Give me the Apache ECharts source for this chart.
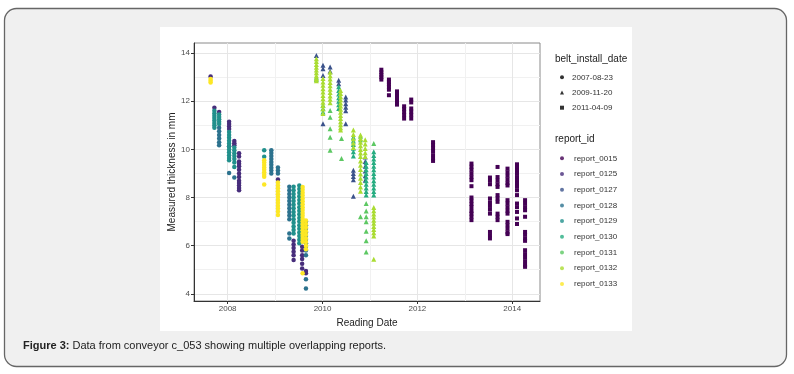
<!DOCTYPE html>
<html><head><meta charset="utf-8">
<script src="https://cdn.jsdelivr.net/npm/echarts@6/dist/echarts.min.js"></script>
<style>html,body{margin:0;padding:0;background:#fff}#c{width:794px;height:374px}</style>
</head><body><div id="c"></div><script>
// ---- data (x = reading date as decimal year; each row: [date, thickness values...]) ----
const reportIds = ['report_0015','report_0125','report_0127','report_0128','report_0129','report_0130','report_0131','report_0132','report_0133'];
const beltDates = ['2007-08-23','2009-11-20','2011-04-09'];
const xTickLabels = [2008, 2010, 2012, 2014];
const xMinorTicks = [2009, 2011, 2013];
const yTickLabels = [4, 6, 8, 10, 12, 14];
const yMinorTicks = [5, 7, 9, 11, 13];

// belt 2007-08-23 (circles)
const c0125 = [
 [2007.64, 13.03],
 [2007.72, 11.73],
 [2007.82, 11.55],
 [2008.03, 11.15, 11.05, 10.95, 10.85, 10.13],
 [2008.14, 10.35, 10.25, 10.17],
 [2008.24, 9.84, 9.7, 9.5, 9.4, 9.3, 9.15, 9.0, 8.85, 8.7, 8.6, 8.5, 8.4, 8.3],
 [2009.06, 8.75],
 [2009.39, 6.2, 6.05, 5.9, 5.75, 5.6, 5.4],
 [2009.57, 5.95, 5.8, 5.6, 5.45, 5.25, 5.05],
 [2009.65, 4.95, 4.85]
];
const c0128 = [
 [2007.82, 10.9, 10.75, 10.6, 10.45, 10.3, 10.17],
 [2008.03, 9.02],
 [2008.14, 8.83],
 [2008.92, 9.96, 9.85, 9.72, 9.6, 9.48, 9.36, 9.24, 9.12, 9.0],
 [2009.06, 9.25, 9.12, 9.0],
 [2009.30, 8.45, 8.3, 8.15, 8.0, 7.85, 7.7, 7.55, 7.4, 7.25, 7.1, 6.5, 6.3],
 [2009.65, 7.0, 6.85, 6.7, 6.55, 6.4, 6.25, 6.1, 5.95, 5.8, 5.6, 4.6, 4.22]
];
const c0129 = [
 [2007.72, 11.6, 11.5, 11.4, 11.3, 11.2, 11.1, 11.0, 10.9],
 [2007.82, 11.45, 11.35, 11.25, 11.15, 11.05],
 [2008.03, 10.72, 10.6, 10.48, 10.36, 10.24, 10.12, 10.0, 9.88, 9.76, 9.64, 9.55],
 [2008.14, 10.08, 9.96, 9.84, 9.72, 9.6, 9.45, 9.27],
 [2008.77, 9.96, 9.69],
 [2009.39, 8.45, 8.3, 8.15, 8.0, 7.85, 7.7, 7.55, 7.4, 7.25, 7.1, 6.95, 6.8, 6.65, 6.5],
 [2009.51, 8.5, 8.35, 8.2, 8.05, 7.9, 7.75, 7.6, 7.45, 7.3, 7.15, 7.0, 6.85, 6.7, 6.55, 6.4, 6.25, 6.1]
];
const c0133 = [
 [2007.64, 12.92, 12.85, 12.78],
 [2008.77, 9.55, 9.45, 9.35, 9.25, 9.15, 9.05, 8.95, 8.86, 8.54],
 [2009.06, 8.62, 8.5, 8.38, 8.26, 8.14, 8.02, 7.9, 7.78, 7.66, 7.54, 7.42, 7.27],
 [2009.58, 8.44, 8.32, 8.2, 8.08, 7.96, 7.84, 7.72, 7.6, 7.48, 7.36, 7.24, 7.12, 7.0, 6.88, 6.76, 6.64, 6.52, 6.4, 6.28, 6.16, 4.85],
 [2009.65, 7.05, 6.9, 6.75, 6.6, 6.45, 6.3, 6.15, 6.0, 5.85]
];
// belt 2009-11-20 (triangles)
const t0127 = [
 [2009.87, 13.9],
 [2010.01, 13.5, 13.35, 13.07, 11.07],
 [2010.16, 13.42, 13.25],
 [2010.34, 12.87, 12.73],
 [2010.49, 12.18, 12.05, 11.9, 11.75, 11.6, 11.07],
 [2010.65, 9.13, 9.0, 8.87, 8.74, 8.05],
 [2010.90, 9.68, 9.5, 9.3, 9.1, 8.9, 8.72]
];
const t0130 = [
 [2010.01, 11.83, 11.7, 11.55],
 [2010.34, 12.6, 12.45, 12.3, 12.15, 12.0, 11.85, 11.7],
 [2010.65, 10.5, 10.35, 10.2, 10.05, 9.9, 9.72],
 [2010.92, 9.45, 9.3, 9.15, 9.0, 8.85, 8.7, 8.55, 8.4, 8.25, 8.1],
 [2011.08, 9.9, 9.75, 9.6, 9.45, 9.3, 9.15, 9.0, 8.85, 8.7, 8.55, 8.4, 8.25, 8.1]
];
const t0131 = [
 [2009.87, 13.0, 12.9],
 [2010.16, 11.62, 11.34, 10.86, 10.5, 9.96],
 [2010.40, 10.45, 9.62],
 [2010.80, 10.55, 10.4, 7.2],
 [2010.92, 7.75, 7.44, 7.2, 6.99, 6.6, 6.2, 5.74],
 [2011.08, 10.24]
];
const t0132 = [
 [2009.87, 13.77, 13.65, 13.53, 13.41, 13.3, 13.18, 13.06, 12.95, 12.85],
 [2010.01, 12.94, 12.8, 12.66, 12.52, 12.38, 12.24, 12.1, 11.96, 11.82, 11.68, 11.49],
 [2010.16, 13.2, 13.06, 12.92, 12.78, 12.64, 12.5, 12.36, 12.22, 12.08, 11.94],
 [2010.38, 12.45, 12.32, 12.19, 12.06, 11.93, 11.8, 11.67, 11.54, 11.41, 11.28, 11.15, 11.02, 10.9, 10.8],
 [2010.65, 10.8, 10.62, 10.44, 10.26, 10.08],
 [2010.80, 10.6, 10.45, 10.3, 10.15, 10.0, 9.85, 9.7, 9.52, 9.34, 9.16, 8.98, 8.8, 8.62, 8.44, 8.26],
 [2010.90, 10.4, 10.22, 10.04, 9.86, 9.7],
 [2011.08, 7.58, 7.45, 7.32, 7.19, 7.06, 6.93, 6.8, 6.67, 6.54, 6.4, 5.43]
];
// belt 2011-04-09 (squares)
const s0015 = [
 [2011.24, 13.31, 13.2, 13.1, 13.0, 12.9],
 [2011.40, 12.9, 12.8, 12.7, 12.6, 12.48, 12.25],
 [2011.57, 12.41, 12.3, 12.2, 12.1, 11.97, 11.86],
 [2011.72, 11.79, 11.68, 11.55, 11.42, 11.28],
 [2011.87, 12.07, 11.95, 11.7, 11.57, 11.43, 11.28],
 [2012.33, 10.3, 10.18, 10.05, 9.92, 9.76, 9.62, 9.52],
 [2013.14, 9.41, 9.28, 9.15, 9.0, 8.85, 8.72, 8.47, 8.0, 7.87, 7.73, 7.6, 7.44, 7.33, 7.2, 7.06],
 [2013.53, 8.83, 8.7, 8.55, 7.96, 7.8, 7.65, 7.5, 7.33, 6.57, 6.43, 6.3],
 [2013.69, 9.27, 8.85, 8.7, 8.55, 8.44, 8.1, 7.96, 7.82, 7.33, 7.2, 7.06],
 [2013.90, 9.2, 9.05, 8.9, 8.75, 8.6, 8.5, 7.89, 7.75, 7.6, 7.45, 7.33, 6.99, 6.85, 6.7, 6.55, 6.48],
 [2014.10, 9.38, 9.25, 9.12, 9.0, 8.85, 8.72, 8.6, 8.45, 8.3, 8.1, 7.75, 7.6, 7.4, 7.13, 6.9],
 [2014.27, 7.89, 7.75, 7.6, 7.47, 7.2, 6.57, 6.45, 6.3, 6.2, 5.81, 5.65, 5.5, 5.35, 5.2, 5.12]
];

// ---- styling ----
const colors = {report_0015:'#440154',report_0125:'#472D7B',report_0127:'#3B528B',report_0128:'#2C728E',report_0129:'#21908C',report_0130:'#27AD81',report_0131:'#5DC863',report_0132:'#AADC32',report_0133:'#FDE725'};
const shapeOf = {'2007-08-23':'circle','2009-11-20':'triangle','2011-04-09':'rect'};
const sizeOf = {'2007-08-23':4.5,'2009-11-20':5,'2011-04-09':4};
const FONT = '"Liberation Sans", Arial, sans-serif';

function expand(cols){ const out=[]; cols.forEach(c=>{ for(let i=1;i<c.length;i++) out.push([c[0], c[i]]); }); return out; }

const groups = [
 ['report_0125','2007-08-23',c0125],['report_0128','2007-08-23',c0128],['report_0129','2007-08-23',c0129],['report_0133','2007-08-23',c0133],
 ['report_0127','2009-11-20',t0127],['report_0130','2009-11-20',t0130],['report_0131','2009-11-20',t0131],['report_0132','2009-11-20',t0132],
 ['report_0015','2011-04-09',s0015]
];

const series = [];
beltDates.forEach(d=>series.push({type:'scatter',name:d,data:[],symbol:shapeOf[d],itemStyle:{color:'#000'}}));
reportIds.forEach(r=>series.push({type:'scatter',name:r,data:[],symbol:'circle',itemStyle:{color:colors[r]}}));
groups.forEach(([r,d,cols])=>series.push({
  type:'scatter', name:r, data:expand(cols), symbol:shapeOf[d], symbolSize:sizeOf[d],
  itemStyle:{color:colors[r], opacity:1}, emphasis:{disabled:true}, silent:true
}));

const chart = echarts.init(document.getElementById('c'), null, {renderer:'canvas'});
const XMIN = 2007.29, XMAX = 2014.585, YMIN = 3.7, YMAX = 14.42;
const fmt = v => String(Math.round(v));
chart.setOption({
  animation:false,
  textStyle:{fontFamily:FONT},
  graphic:[
    {type:'rect', z:-10, shape:{x:4.5,y:8.5,width:782,height:358,r:12}, style:{fill:'#f0f0f0',stroke:'#666',lineWidth:1.3}},
    {type:'rect', z:-9, shape:{x:160,y:27,width:472,height:304}, style:{fill:'#ffffff'}},
    {type:'text', z:5, left:23, top:340, style:{
      text:'{b|Figure 3:} Data from conveyor c_053 showing multiple overlapping reports.',
      rich:{b:{fontWeight:'bold',fontSize:11,fontFamily:FONT,fill:'#222'}},
      fontSize:11, fontFamily:FONT, fill:'#222'}}
  ],
  title:[
    {text:'belt_install_date', left:555, top:54, textStyle:{fontSize:10, fontWeight:'normal', color:'#222', fontFamily:FONT}, padding:0},
    {text:'report_id', left:555, top:134.5, textStyle:{fontSize:10, fontWeight:'normal', color:'#222', fontFamily:FONT}, padding:0}
  ],
  legend:[
    {data:beltDates.map(d=>({name:d, icon:shapeOf[d]})), orient:'vertical', left:560, top:73.3, padding:0,
     itemWidth:4, itemHeight:4, itemGap:7.2, selectedMode:false,
     textStyle:{fontSize:8, color:'#333', fontFamily:FONT, padding:[0,0,0,3]}},
    {data:reportIds.map(r=>({name:r, icon:'circle'})), orient:'vertical', left:560, top:154.3, padding:0,
     itemWidth:4, itemHeight:4, itemGap:7.7, selectedMode:false,
     textStyle:{fontSize:8, color:'#333', fontFamily:FONT, padding:[0,0,0,5]}}
  ],
  grid:{left:194, top:43, width:346, height:258, show:true, borderColor:'#8a8a8a', borderWidth:1, backgroundColor:'transparent'},
  xAxis:[
    {type:'value', min:XMIN, max:XMAX, name:'Reading Date', nameLocation:'middle', nameGap:15,
     nameTextStyle:{fontSize:10, color:'#222', fontFamily:FONT},
     axisLine:{show:true, onZero:false, lineStyle:{color:'#333', width:1}},
     axisTick:{show:true, customValues:xTickLabels, length:3, lineStyle:{color:'#333'}},
     axisLabel:{customValues:xTickLabels, formatter:fmt, fontSize:8, color:'#4d4d4d', margin:4, fontFamily:FONT},
     splitLine:{show:true, lineStyle:{color:'#e6e6e6', width:1}}},
    {type:'value', min:XMIN, max:XMAX, position:'bottom',
     axisLine:{show:false}, axisTick:{show:false, customValues:xMinorTicks}, axisLabel:{show:false, customValues:xMinorTicks},
     splitLine:{show:true, lineStyle:{color:'#f1f1f1', width:1}}}
  ],
  yAxis:[
    {type:'value', min:YMIN, max:YMAX, name:'Measured thickness in mm', nameLocation:'middle', nameGap:15.5, nameRotate:90,
     nameTextStyle:{fontSize:10, color:'#222', fontFamily:FONT},
     axisLine:{show:true, onZero:false, lineStyle:{color:'#333', width:1}},
     axisTick:{show:true, customValues:yTickLabels, length:3, lineStyle:{color:'#333'}},
     axisLabel:{customValues:yTickLabels, formatter:fmt, fontSize:8, color:'#4d4d4d', margin:4, fontFamily:FONT},
     splitLine:{show:true, lineStyle:{color:'#e6e6e6', width:1}}},
    {type:'value', min:YMIN, max:YMAX, position:'left',
     axisLine:{show:false}, axisTick:{show:false, customValues:yMinorTicks}, axisLabel:{show:false, customValues:yMinorTicks},
     splitLine:{show:true, lineStyle:{color:'#f1f1f1', width:1}}}
  ],
  series: series
});
</script></body></html>
